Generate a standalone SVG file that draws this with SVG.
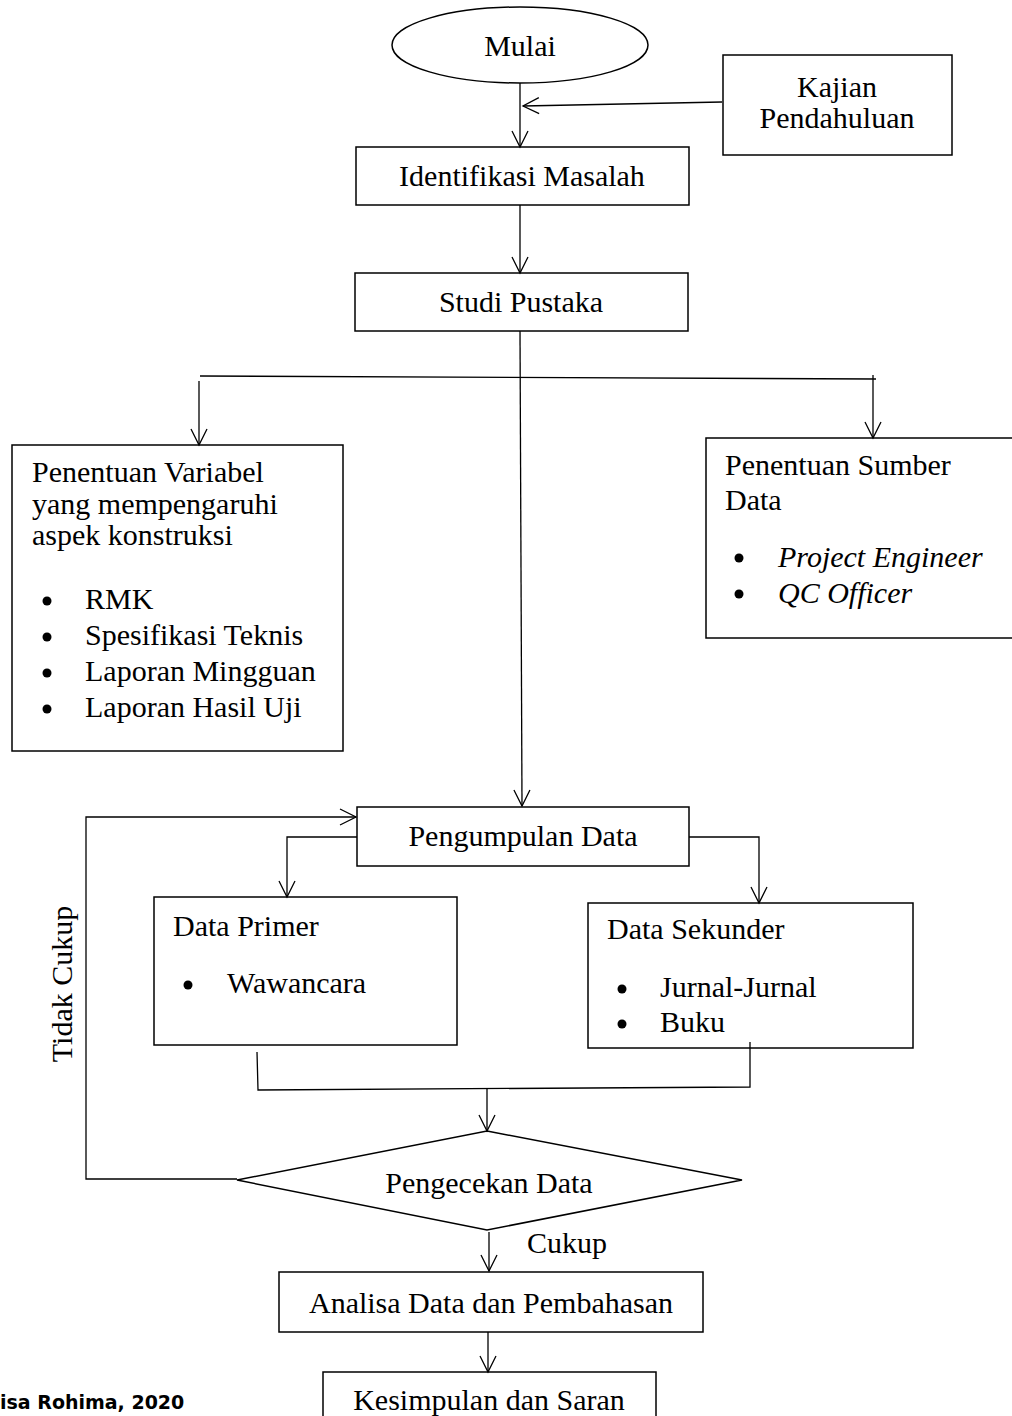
<svg xmlns="http://www.w3.org/2000/svg" width="1012" height="1416" viewBox="0 0 1012 1416">
<style>
.t{font-family:"Liberation Serif","Times New Roman",serif;font-size:30px;fill:#000}
.c{text-anchor:middle}
.i{font-style:italic}
.b{fill:none;stroke:#000;stroke-width:1.5}
.l{fill:none;stroke:#000;stroke-width:1.3}
.a{marker-end:url(#arr)}
.dot{fill:#000}
</style>
<defs>
<marker id="arr" markerUnits="userSpaceOnUse" viewBox="-18 -10 20 20" refX="0" refY="0" markerWidth="20" markerHeight="20" orient="auto" overflow="visible">
<path d="M-16,-8 L0,0 L-16,8" fill="none" stroke="#000" stroke-width="1.3"/>
</marker>
</defs>
<rect width="1012" height="1416" fill="#fff"/>

<g id="connectors">
<path class="l a" d="M520,83 L520,147"/>
<path class="l a" d="M722,102 L523,106"/>
<path class="l a" d="M520,205 L520,273"/>
<path class="l a" d="M520,331 L522,806"/>
<path class="l" d="M200,376 L876,379"/>
<path class="l a" d="M199,381 L199,445"/>
<path class="l a" d="M873,375 L873,438"/>
<path class="l a" d="M357,837 L287,837 L287,897"/>
<path class="l a" d="M689,837 L759,837 L759,903"/>
<path class="l" d="M257,1052 L258,1090 L750,1087 L750,1042"/>
<path class="l a" d="M487,1088 L487,1131"/>
<path class="l a" d="M237,1179 L86,1179 L86,817 L356,817"/>
<path class="l a" d="M489,1232 L489,1271"/>
<path class="l a" d="M488,1332 L488,1372"/>
<text class="t" x="527" y="1253">Cukup</text>
<text class="t c" transform="translate(72,984) rotate(-90)">Tidak Cukup</text>
</g>

<g id="mulai">
<ellipse class="b" cx="520" cy="45" rx="128" ry="38"/>
<text class="t c" x="520" y="56">Mulai</text>
</g>

<g id="kajian">
<rect class="b" x="723" y="55" width="229" height="100"/>
<text class="t c" x="837" y="97">Kajian</text>
<text class="t c" x="837" y="128">Pendahuluan</text>
</g>

<g id="identifikasi">
<rect class="b" x="356" y="147" width="333" height="58"/>
<text class="t c" x="522" y="186">Identifikasi Masalah</text>
</g>

<g id="studi">
<rect class="b" x="355" y="273" width="333" height="58"/>
<text class="t c" x="521" y="312">Studi Pustaka</text>
</g>

<g id="variabel">
<rect class="b" x="12" y="445" width="331" height="306"/>
<text class="t" x="32" y="482">Penentuan Variabel</text>
<text class="t" x="32" y="514">yang mempengaruhi</text>
<text class="t" x="32" y="545">aspek konstruksi</text>
<circle class="dot" cx="47" cy="601" r="4.5"/>
<text class="t" x="85" y="609">RMK</text>
<circle class="dot" cx="47" cy="637" r="4.5"/>
<text class="t" x="85" y="645">Spesifikasi Teknis</text>
<circle class="dot" cx="47" cy="673" r="4.5"/>
<text class="t" x="85" y="681">Laporan Mingguan</text>
<circle class="dot" cx="47" cy="709" r="4.5"/>
<text class="t" x="85" y="717">Laporan Hasil Uji</text>
</g>

<g id="sumber">
<rect class="b" x="706" y="438" width="320" height="200"/>
<text class="t" x="725" y="475">Penentuan Sumber</text>
<text class="t" x="725" y="510">Data</text>
<circle class="dot" cx="739" cy="558" r="4.5"/>
<text class="t i" x="778" y="567">Project Engineer</text>
<circle class="dot" cx="739" cy="594" r="4.5"/>
<text class="t i" x="778" y="603">QC Officer</text>
</g>

<g id="pengumpulan">
<rect class="b" x="357" y="807" width="332" height="59"/>
<text class="t c" x="523" y="846">Pengumpulan Data</text>
</g>

<g id="primer">
<rect class="b" x="154" y="897" width="303" height="148"/>
<text class="t" x="173" y="936">Data Primer</text>
<circle class="dot" cx="188" cy="985" r="4.5"/>
<text class="t" x="227" y="993">Wawancara</text>
</g>

<g id="sekunder">
<rect class="b" x="588" y="903" width="325" height="145"/>
<text class="t" x="607" y="939">Data Sekunder</text>
<circle class="dot" cx="622" cy="989" r="4.5"/>
<text class="t" x="660" y="997">Jurnal-Jurnal</text>
<circle class="dot" cx="622" cy="1024" r="4.5"/>
<text class="t" x="660" y="1032">Buku</text>
</g>

<g id="pengecekan">
<polygon class="b" points="487,1131 742,1180 487,1230 237,1180"/>
<text class="t c" x="489" y="1193">Pengecekan Data</text>
</g>

<g id="analisa">
<rect class="b" x="279" y="1272" width="424" height="60"/>
<text class="t c" x="491" y="1313">Analisa Data dan Pembahasan</text>
</g>

<g id="kesimpulan">
<rect class="b" x="323" y="1372" width="333" height="60"/>
<text class="t c" x="489" y="1410">Kesimpulan dan Saran</text>
</g>

<text x="0" y="1409" font-family="DejaVu Sans, sans-serif" font-weight="bold" font-size="19" fill="#000">isa Rohima, 2020</text>
</svg>
